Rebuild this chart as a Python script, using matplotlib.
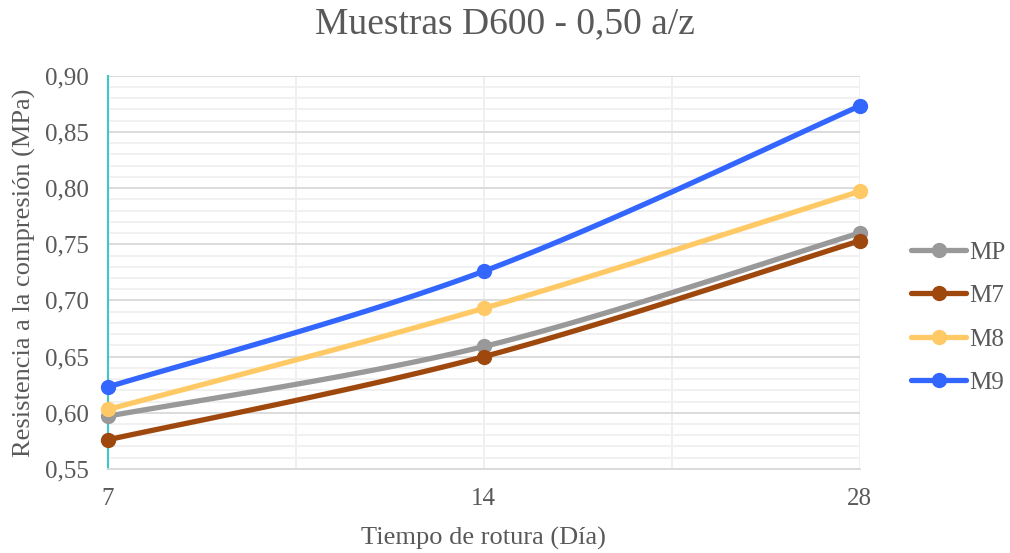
import numpy as np
import matplotlib
matplotlib.use("Agg")
import matplotlib.pyplot as plt
from matplotlib.ticker import MultipleLocator, FuncFormatter

days = ["7", "14", "28"]
series_names = ["MP", "M7", "M8", "M9"]
mp = [0.597, 0.659, 0.760]
m7 = [0.576, 0.650, 0.753]
m8 = [0.603, 0.693, 0.797]
m9 = [0.623, 0.726, 0.873]
colors = ["#999999", "#9e480e", "#ffc966", "#3366ff"]

plt.rcParams['font.family'] = ['Liberation Serif', 'DejaVu Serif']


def smooth(xs, ys, n=40):
    # Catmull-Rom style bezier, roughly what Excel does for smoothed lines
    xs = np.asarray(xs, float)
    ys = np.asarray(ys, float)
    px, py = [], []
    for i in range(len(xs) - 1):
        x0, y0 = (xs[i - 1], ys[i - 1]) if i > 0 else (xs[i], ys[i])
        x3, y3 = (xs[i + 2], ys[i + 2]) if i + 2 < len(xs) else (xs[i + 1], ys[i + 1])
        x1, y1 = xs[i], ys[i]
        x2, y2 = xs[i + 1], ys[i + 1]
        c1x, c1y = x1 + (x2 - x0) / 6, y1 + (y2 - y0) / 6
        c2x, c2y = x2 - (x3 - x1) / 6, y2 - (y3 - y1) / 6
        t = np.linspace(0, 1, n)
        bx = (1 - t) ** 3 * x1 + 3 * (1 - t) ** 2 * t * c1x + 3 * (1 - t) * t ** 2 * c2x + t ** 3 * x2
        by = (1 - t) ** 3 * y1 + 3 * (1 - t) ** 2 * t * c1y + 3 * (1 - t) * t ** 2 * c2y + t ** 3 * y2
        px.extend(bx)
        py.extend(by)
    return px, py


fig = plt.figure(figsize=(10.1, 5.53), dpi=100)
ax = fig.add_axes([0.107, 0.152, 0.744, 0.711])

x = np.arange(len(days))
for name, vals, c in zip(series_names, [mp, m7, m8, m9], colors):
    sx, sy = smooth(x, vals)
    ax.plot(sx, sy, color=c, lw=3.8, solid_capstyle='round', zorder=3, clip_on=False)
    ax.plot(x, vals, 'o', color=c, ms=10, zorder=4, clip_on=False)
    ax.plot([], [], color=c, lw=3.8, marker='o', ms=10, label=name, solid_capstyle='round')

ax.set_xlim(0, 2)
ax.set_ylim(0.55, 0.90)
ax.set_xticks(x)
ax.set_xticklabels(days)
ax.set_xticks([0.5, 1.5], minor=True)
ax.yaxis.set_major_locator(MultipleLocator(0.05))
ax.yaxis.set_minor_locator(MultipleLocator(0.01))
ax.yaxis.set_major_formatter(FuncFormatter(lambda v, p: f"{v:.2f}".replace(".", ",")))

ax.grid(which='major', axis='y', color='#d9d9d9', lw=1.3)
ax.grid(which='minor', axis='y', color='#f0f0f0', lw=1.3)
ax.grid(which='both', axis='x', color='#eeeeee', lw=1.3)
ax.set_axisbelow(True)

for s in ['top', 'right']:
    ax.spines[s].set_visible(False)
ax.spines['left'].set_color('#3cc8c8')
ax.spines['left'].set_linewidth(1.5)
ax.spines['bottom'].set_color('#d9d9d9')
ax.spines['bottom'].set_linewidth(1.3)
ax.tick_params(which='both', length=0, labelsize=18, labelcolor='#595959')
ax.tick_params(axis='y', pad=14)
ax.tick_params(axis='x', pad=14)

fig.text(0.5, 0.957, "Muestras D600 - 0,50 a/z", fontsize=27, color='#595959', ha='center', va='center')
ax.set_xlabel("Tiempo de rotura (Día)", fontsize=19, color='#595959', labelpad=12)
ax.set_ylabel("Resistencia a la compresión (MPa)", fontsize=19, color='#595959', labelpad=6)

leg = ax.legend(loc='center left', bbox_to_anchor=(1.069, 0.385), frameon=False, fontsize=18,
                handlelength=2.2, labelspacing=0.84, handletextpad=0.1, labelcolor='#595959',
                borderaxespad=0, borderpad=0)

fig.savefig("out.png", dpi=100)
